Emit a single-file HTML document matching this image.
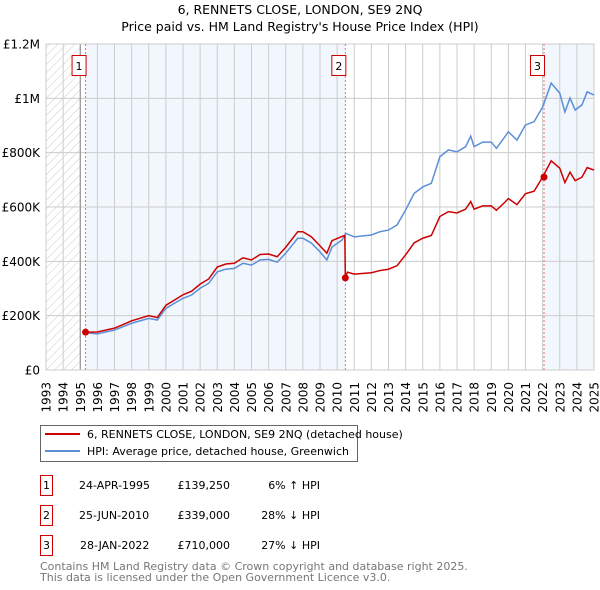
<!DOCTYPE html>
<html><head><meta charset="utf-8"><style>
body{margin:0;background:#fff;}
svg{display:block;font-family:"DejaVu Sans","Liberation Sans",sans-serif;}
</style></head><body>
<svg id="chart" width="600" height="590" viewBox="0 0 600 590">
<defs>
<pattern id="hatch" width="6" height="6" patternUnits="userSpaceOnUse" patternTransform="rotate(45)">
<line x1="0" y1="0" x2="0" y2="6" stroke="#ccc" stroke-width="1"/>
</pattern>
</defs>
<text x="300" y="14" text-anchor="middle" font-size="12.5">6, RENNETS CLOSE, LONDON, SE9 2NQ</text>
<text x="300" y="31" text-anchor="middle" font-size="12.5">Price paid vs. HM Land Registry's House Price Index (HPI)</text>
<g id="plot"></g>
<g>
<rect x="40.5" y="425.5" width="317" height="36" fill="#fff" stroke="#666"/>
<line x1="45" y1="434" x2="80" y2="434" stroke="#cc0000" stroke-width="2"/>
<text x="87" y="438" font-size="11">6, RENNETS CLOSE, LONDON, SE9 2NQ (detached house)</text>
<line x1="45" y1="451" x2="80" y2="451" stroke="#5b8fd6" stroke-width="2"/>
<text x="87" y="455" font-size="11">HPI: Average price, detached house, Greenwich</text>
</g>
<g font-size="11">
<rect x="40.5" y="475.5" width="12" height="20" fill="#fff" stroke="#cc0000"/><text x="46.5" y="489" text-anchor="middle">1</text>
<text x="79" y="489">24-APR-1995</text><text x="230" y="489" text-anchor="end">£139,250</text><text x="320" y="489" text-anchor="end">6% ↑ HPI</text>
<rect x="40.5" y="505.5" width="12" height="20" fill="#fff" stroke="#cc0000"/><text x="46.5" y="519" text-anchor="middle">2</text>
<text x="79" y="519">25-JUN-2010</text><text x="230" y="519" text-anchor="end">£339,000</text><text x="320" y="519" text-anchor="end">28% ↓ HPI</text>
<rect x="40.5" y="535.5" width="12" height="20" fill="#fff" stroke="#cc0000"/><text x="46.5" y="549" text-anchor="middle">3</text>
<text x="80" y="549">28-JAN-2022</text><text x="230" y="549" text-anchor="end">£710,000</text><text x="320" y="549" text-anchor="end">27% ↓ HPI</text>
</g>
<text x="40" y="570" font-size="11" fill="#777">Contains HM Land Registry data © Crown copyright and database right 2025.</text>
<text x="40" y="581" font-size="11" fill="#777">This data is licensed under the Open Government Licence v3.0.</text>
</svg>
<script>
const hpiYears=[1995.3,1996,1997,1998,1999,1999.5,2000,2001,2001.5,2002,2002.5,2003,2003.5,2004,2004.5,2005,2005.5,2006,2006.5,2007,2007.7,2008,2008.5,2009,2009.4,2009.7,2010.3,2010.5,2011,2012,2012.5,2013,2013.5,2014,2014.5,2015,2015.5,2016,2016.5,2017,2017.5,2017.8,2018,2018.5,2019,2019.3,2019.8,2020,2020.5,2021,2021.5,2022,2022.5,2023,2023.3,2023.6,2023.9,2024.3,2024.6,2025];
const hpiValues=[137,133,147,172,190,184,227,264,276,301,319,361,371,374,393,386,405,407,397,430,485,485,467,435,405,453,479,503,490,497,509,515,534,589,650,674,687,785,810,803,822,861,822,839,839,816,859,877,846,902,914,968,1056,1019,950,1001,957,976,1024,1012];
const priceYears=[1995.3,1996,1997,1998,1999,1999.5,2000,2001,2001.5,2002,2002.5,2003,2003.5,2004,2004.5,2005,2005.5,2006,2006.5,2007,2007.7,2008,2008.5,2009,2009.4,2009.7,2010.3,2010.45,2010.48,2010.6,2011,2012,2012.5,2013,2013.5,2014,2014.5,2015,2015.5,2016,2016.5,2017,2017.5,2017.8,2018,2018.5,2019,2019.3,2019.8,2020,2020.5,2021,2021.5,2022,2022.5,2023,2023.3,2023.6,2023.9,2024.3,2024.6,2025];
const priceValues=[139,140,154,181,200,193,238,277,290,316,335,379,390,393,413,405,425,427,417,452,509,509,490,457,430,476,492,495,339,360,353,358,366,371,384,424,468,485,495,565,583,578,592,620,592,604,604,588,618,631,609,649,658,710,770,743,690,728,697,710,745,736];
const saleYears=[1995.31,2010.48,2022.08];
const saleValues=[139.25,339,710];
const saleLabels=["1","2","3"];
const yTicks=[0,200,400,600,800,1000,1200];
const yTickLabels=["£0","£200K","£400K","£600K","£800K","£1M","£1.2M"];
const xTicks=[];for(let y=1993;y<=2025;y++)xTicks.push(y);

const X0=46,X1=594,Y0=370,Y1=44;
const xs=y=>X0+(y-1993)/(2025-1993)*(X1-X0);
const ys=v=>Y0-v/1200*(Y0-Y1);
const NS="http://www.w3.org/2000/svg";
const plot=document.getElementById('plot');
function mk(t,a,p){const e=document.createElementNS(NS,t);for(const k in a)e.setAttribute(k,a[k]);(p||plot).appendChild(e);return e;}

let e;
e=mk('rect',{x:xs(1995.31),y:Y1,width:xs(2010.48)-xs(1995.31),height:Y0-Y1,fill:'#f2f6fd'});


e=mk('rect',{x:xs(2022.08),y:Y1,width:X1-xs(2022.08),height:Y0-Y1,fill:'#f2f6fd'});


e=mk('rect',{x:X0,y:Y1,width:xs(1995)-X0,height:Y0-Y1,fill:'url(#hatch)'});



xTicks.forEach(t=>{
  e=mk('line',{x1:xs(t),x2:xs(t),y1:Y1,y2:Y0,stroke:'#ccc','stroke-width':1});
  
  
  e=mk('text',{x:xs(t)+4.5,y:382,'font-size':12,'text-anchor':'end',transform:`rotate(-90 ${xs(t)+4.5} 382)`});
  e.textContent=t;
  
  
});
yTicks.forEach((t,i)=>{
  e=mk('line',{x1:X0,x2:X1,y1:ys(t),y2:ys(t),stroke:'#ccc','stroke-width':1});
  
  
  e=mk('text',{x:40,y:ys(t)+4.5,'font-size':12,'text-anchor':'end'});
  e.textContent=yTickLabels[i];
  
  
});
e=mk('line',{x1:xs(1995),x2:xs(1995),y1:Y1,y2:Y0,stroke:'#888','stroke-width':1});


e=mk('rect',{x:X0,y:Y1,width:X1-X0,height:Y0-Y1,fill:'none',stroke:'#ccc'});



saleYears.forEach((s,i)=>{
  e=mk('line',{x1:xs(s),x2:xs(s),y1:Y1,y2:Y0,stroke:'#f07070','stroke-width':1,'stroke-dasharray':'2,2'});
  
  
});

e=mk('polyline',{points:hpiYears.map((y,i)=>xs(y)+','+ys(hpiValues[i])).join(' '),fill:'none',stroke:'#5b8fd6','stroke-width':1.5});


e=mk('polyline',{points:priceYears.map((y,i)=>xs(y)+','+ys(priceValues[i])).join(' '),fill:'none',stroke:'#cc0000','stroke-width':1.5});



saleYears.forEach((s,i)=>{
  e=mk('circle',{cx:xs(s),cy:ys(saleValues[i]),r:3.5,fill:'#cc0000'});
  
  
  const bx=xs(s)-3;
  e=mk('rect',{x:bx-10.5,y:55.5,width:14,height:20,fill:'#fff',stroke:'#cc0000'});
  
  
  e=mk('text',{x:bx-3.5,y:70,'font-size':11,'text-anchor':'middle'});
  e.textContent=saleLabels[i];
  
  
});
</script>
</body></html>
